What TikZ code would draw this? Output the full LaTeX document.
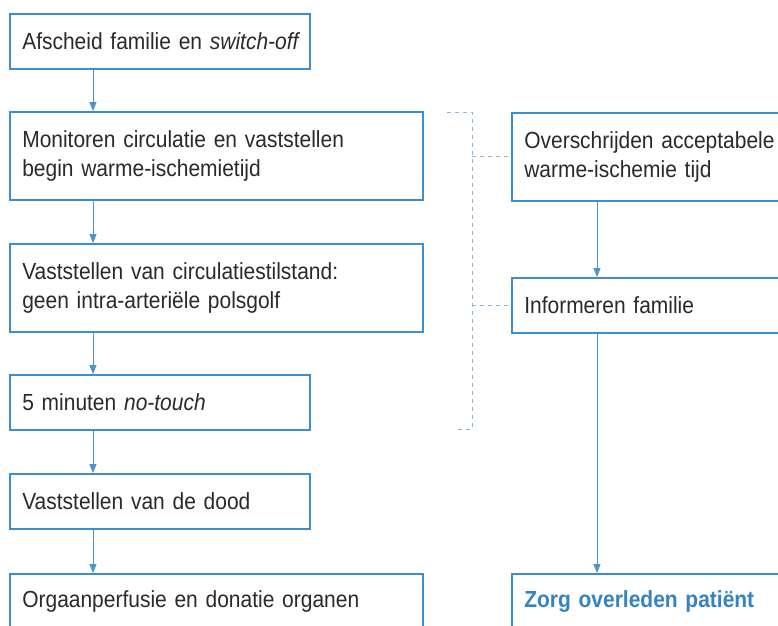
\documentclass[tikz,border=0pt]{standalone}
\usepackage{fontspec}
\setmainfont{Liberation Sans}[FakeStretch=0.9,
  ItalicFeatures={FakeStretch=0.9},BoldFeatures={FakeStretch=0.9}]
\usetikzlibrary{arrows.meta}

\definecolor{boxblue}{HTML}{3B8ED0}
\definecolor{linkblue}{HTML}{4A93D0}
\definecolor{dashblue}{HTML}{8DB8DC}
\definecolor{inkgray}{HTML}{2A2A2A}
\definecolor{zorgblue}{HTML}{3483C2}

\begin{document}
\begin{tikzpicture}[x=1pt,y=-1pt,
  font=\fontsize{23.3}{28.5}\selectfont,
  box/.style={draw=boxblue,line width=1.6pt,anchor=north west,inner xsep=12.5pt,inner ysep=0pt,
    align=left,text=inkgray,text width=#1},
  oneline/.style={minimum height=55pt},
  twoline/.style={minimum height=88pt},
  flow/.style={draw=linkblue,line width=0.8pt,-{Triangle[width=7pt,length=9pt]}},
  link/.style={draw=dashblue,line width=0.8pt,dash pattern=on 4pt off 4pt}]
\useasboundingbox (0,0) rectangle (778,625);
\clip (0,0) rectangle (778,625);
\fill[white] (0,0) rectangle (778,625);

% linker kolom
\node[box=275pt,oneline] (afscheid) at (9,13) {\mbox{Afscheid familie en \textit{switch-off}}};
\node[box=388pt,twoline] (monitoren) at (9,111) {Monitoren circulatie en vaststellen\\begin warme-ischemietijd};
\node[box=388pt,twoline] (stilstand) at (9,243) {Vaststellen van circulatiestilstand:\\geen intra-arteriële polsgolf};
\node[box=275pt,oneline] (notouch) at (9,374) {5 minuten \textit{no-touch}};
\node[box=275pt,oneline] (dood) at (9,473) {Vaststellen van de dood};
\node[box=388pt,oneline] (perfusie) at (9,573) {Orgaanperfusie en donatie organen};

% rechter kolom
\node[box=275pt,twoline] (overschrijden) at (511,112) {Overschrijden acceptabele\\warme-ischemie tijd};
\node[box=275pt,oneline] (informeren) at (511,277) {Informeren familie};
\node[box=275pt,oneline,text=zorgblue] (zorg) at (511,573) {\textbf{Zorg overleden patiënt}};

% pijlen
\foreach \a/\b in {afscheid/monitoren,monitoren/stilstand,stilstand/notouch,notouch/dood,dood/perfusie}
  \draw[flow] ([xshift=84pt]\a.south west) -- ([xshift=84pt]\b.north west);
\foreach \a/\b in {overschrijden/informeren,informeren/zorg}
  \draw[flow] ([xshift=86pt]\a.south west) -- ([xshift=86pt]\b.north west);

% gestippelde haak
\coordinate (haakboven) at (472,112);
\coordinate (haakonder) at (472,429);
\coordinate (tikboven) at (447,112);
\coordinate (tikonder) at (455,429);
\draw[link] (tikboven) -- (haakboven) -- (haakonder) -- (tikonder);
\draw[link] (haakboven |- overschrijden.west) -- (overschrijden.west);
\draw[link] (haakboven |- informeren.west) -- (informeren.west);
\end{tikzpicture}
\end{document}
